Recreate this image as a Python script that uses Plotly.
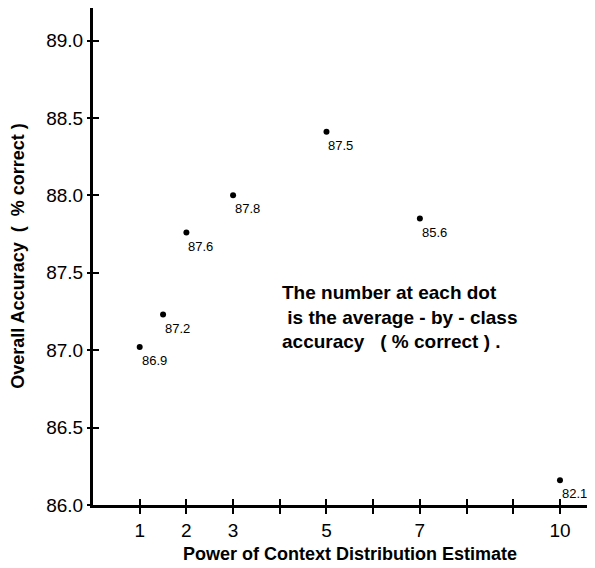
import plotly.graph_objects as go

# Data
power = [1, 1.5, 2, 3, 5, 7, 10]
overall_acc = [87.02, 87.23, 87.76, 88.00, 88.41, 87.85, 86.16]
class_acc = ["86.9", "87.2", "87.6", "87.8", "87.5", "85.6", "82.1"]

x_tickvals = [1, 2, 3, 4, 5, 6, 7, 8, 9, 10]
x_ticktext = ["1", "2", "3", "", "5", "", "7", "", "", "10"]
y_tickvals = [86.0, 86.5, 87.0, 87.5, 88.0, 88.5, 89.0]
y_ticktext = ["86.0", "86.5", "87.0", "87.5", "88.0", "88.5", "89.0"]

FONT = "Liberation Sans, Arial, sans-serif"
XR = [0, 10.6]
YR = [86.0, 89.21]

fig = go.Figure()
fig.add_trace(go.Scatter(
    x=power, y=overall_acc, mode="markers",
    marker=dict(color="black", size=6),
    showlegend=False, hoverinfo="skip",
))
# invisible trace for overlay axes (inside tick marks)
fig.add_trace(go.Scatter(x=[XR[0]], y=[YR[0]], xaxis="x2", yaxis="y2",
                         mode="markers", marker=dict(opacity=0),
                         showlegend=False, hoverinfo="skip"))

annots = [
    dict(text="<b>Overall Accuracy  (  % correct )</b>", textangle=-90,
         xref="paper", yref="paper", x=-0.153, y=0.5,
         xanchor="center", yanchor="middle", showarrow=False,
         font=dict(size=18, family=FONT, color="black")),
    dict(text="<b>Power of Context Distribution Estimate</b>",
         xref="paper", yref="paper", x=0.52, y=-0.099,
         xanchor="center", yanchor="middle", showarrow=False,
         font=dict(size=18, family=FONT, color="black")),
    dict(text="<b>The number at each dot<br> is the average - by - class<br>accuracy   ( % correct ) .</b>",
         xref="paper", yref="paper", x=0.378, y=0.452,
         xanchor="left", yanchor="top", align="left", showarrow=False,
         font=dict(size=19, family=FONT, color="black")),
]
# value labels next to each dot
for xv, yv, t in zip(power, overall_acc, class_acc):
    annots.append(dict(x=xv, y=yv, xref="x", yref="y", text=t,
                       xanchor="left", yanchor="top", xshift=1, yshift=-5,
                       showarrow=False, borderpad=0,
                       font=dict(size=13, family=FONT, color="black")))

fig.update_layout(
    width=580, height=560,
    margin=dict(l=85, r=0, t=0, b=63),
    paper_bgcolor="white", plot_bgcolor="white",
    font=dict(family=FONT, color="black"),
    xaxis=dict(range=XR, showgrid=False, zeroline=False,
               showline=True, linecolor="black", linewidth=3,
               tickmode="array", tickvals=x_tickvals, ticktext=x_ticktext,
               ticks="outside", ticklen=6, tickwidth=1.5, tickcolor="black",
               tickfont=dict(size=19, family=FONT), fixedrange=True),
    yaxis=dict(range=YR, showgrid=False, zeroline=False,
               showline=True, linecolor="black", linewidth=3,
               tickmode="array", tickvals=y_tickvals, ticktext=y_ticktext,
               ticks="outside", ticklen=3, tickwidth=1.5, tickcolor="black",
               tickfont=dict(size=19, family=FONT), fixedrange=True),
    xaxis2=dict(range=XR, overlaying="x", anchor="y2", side="bottom",
                showgrid=False, zeroline=False, showline=False,
                tickmode="array", tickvals=x_tickvals, showticklabels=False,
                ticks="inside", ticklen=6, tickwidth=1.5, tickcolor="black"),
    yaxis2=dict(range=YR, overlaying="y", anchor="x2", side="left",
                showgrid=False, zeroline=False, showline=False,
                tickmode="array", tickvals=y_tickvals, showticklabels=False,
                ticks="inside", ticklen=6, tickwidth=1.5, tickcolor="black"),
    annotations=annots,
)

fig.write_html("out.html")
